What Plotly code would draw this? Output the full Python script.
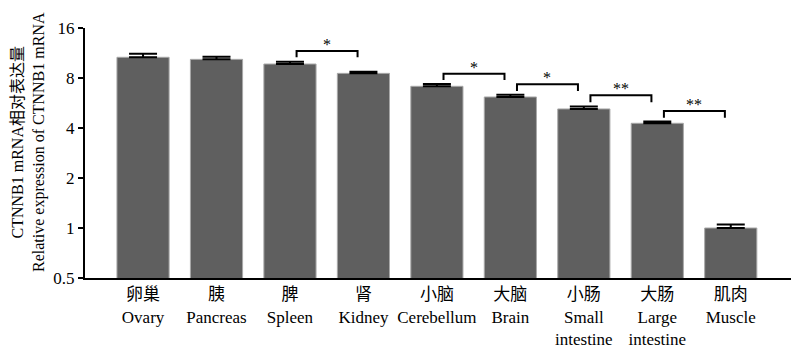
import math
import plotly.graph_objects as go

categories_cn = ["卵巢", "胰", "脾", "肾", "小脑", "大脑", "小肠", "大肠", "肌肉"]
categories_en = ["Ovary", "Pancreas", "Spleen", "Kidney", "Cerebellum", "Brain",
                 "Small<br>intestine", "Large<br>intestine", "Muscle"]
values = [10.66, 10.36, 9.71, 8.53, 7.13, 6.15, 5.21, 4.27, 1.0]
err_upper = [0.54, 0.39, 0.32, 0.20, 0.23, 0.20, 0.17, 0.10, 0.05]

# significance brackets: (left index, right index, top value, leg bottom value, label)
brackets = [
    (2, 3, 11.63, 10.66, "*"),
    (4, 5, 8.49, 7.78, "*"),
    (5, 6, 7.33, 6.68, "*"),
    (6, 7, 6.29, 5.71, "**"),
    (7, 8, 5.06, 4.61, "**"),
]

ytick_vals = [0.5, 1, 2, 4, 8, 16]
ytick_text = ["0.5", "1", "2", "4", "8", "16"]
y_title = "CTNNB1 mRNA相对表达量<br>Relative expression of CTNNB1 mRNA"

FONT = "Liberation Serif, Times New Roman, Noto Sans CJK SC, serif"

x = list(range(len(categories_cn)))
ticktext = [f"{c}<br>{e}" for c, e in zip(categories_cn, categories_en)]

fig = go.Figure()
fig.add_trace(go.Bar(
    x=x, y=values, width=0.71,
    marker=dict(color="#5f5f5f", line=dict(color="#a8a8a8", width=1)),
    error_y=dict(type="data", symmetric=False, array=err_upper,
                 arrayminus=[0] * len(values), color="black", thickness=2, width=14),
    showlegend=False, hoverinfo="skip",
))

for (i, j, top, bot, lab) in brackets:
    xl = i + 0.09
    xr = j - 0.08
    fig.add_trace(go.Scatter(
        x=[xl, xl, xr, xr], y=[bot, top, top, bot], mode="lines",
        line=dict(color="black", width=2), showlegend=False, hoverinfo="skip",
    ))
    fig.add_annotation(
        x=(xl + xr) / 2, y=math.log10(top), xref="x", yref="y",
        text=lab, showarrow=False, yanchor="bottom", yshift=-4,
        font=dict(family=FONT, size=16, color="black"),
    )

fig.add_annotation(
    x=0, y=0.544, xref="paper", yref="paper", xanchor="center", yanchor="middle",
    xshift=-57, text=y_title, textangle=-90, showarrow=False,
    font=dict(family=FONT, size=16, color="black"),
)

fig.update_layout(
    template="none",
    width=800, height=357,
    margin=dict(l=85, r=9, t=28, b=79, pad=0),
    plot_bgcolor="white", paper_bgcolor="white",
    font=dict(family=FONT, size=16, color="black"),
    xaxis=dict(
        range=[-0.79, 8.82], tickmode="array", tickvals=x, ticktext=ticktext,
        showline=True, linecolor="black", linewidth=2, ticks="", showgrid=False,
        zeroline=False, tickfont=dict(family=FONT, size=17), automargin=False,
    ),
    yaxis=dict(
        type="log", range=[-0.30103, 1.20412],
        tickmode="array", tickvals=ytick_vals, ticktext=ytick_text,
        showline=True, linecolor="black", linewidth=2,
        ticks="outside", ticklen=5, tickwidth=2, tickcolor="black",
        showgrid=False, zeroline=False, tickfont=dict(family=FONT, size=17),
        automargin=False,
    ),
)

fig.write_html("out.html", config={"displayModeBar": False},
               post_script="document.body.style.margin='0';")
